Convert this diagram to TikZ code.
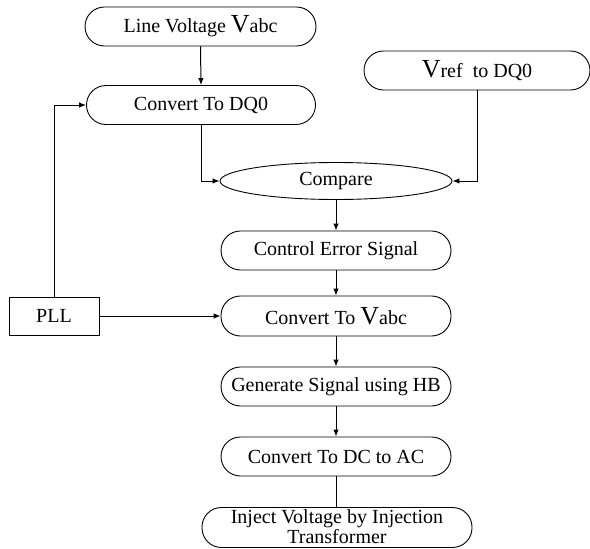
\documentclass[tikz,border=0pt]{standalone}
\usepackage{fontspec}
\setmainfont{Liberation Serif}
\usetikzlibrary{arrows.meta,shapes.geometric}
\newcommand\myV{{\fontsize{26}{26}\selectfont V}}
\begin{document}
\begin{tikzpicture}[x=1pt,y=-1pt,
  every node/.style={font=\fontsize{20}{21}\selectfont, line width=0.9pt},
  stad/.style={draw, rectangle, rounded corners=19.5pt, minimum height=39pt, inner sep=0pt},
  ell/.style={draw, ellipse, minimum width=232pt, minimum height=37pt, inner sep=0pt},
  box/.style={draw, rectangle, minimum width=90pt, minimum height=38pt, inner sep=0pt},
  conn/.style={line width=1pt},
  arr/.style={conn, -{Latex[length=7pt,width=5.5pt]}}]
\useasboundingbox (0,0) rectangle (590,549);
\node[stad, minimum width=231pt] (lv) at (200.5,26.5) {Line Voltage \myV abc};
\node[stad, minimum width=229pt] (dq) at (201,105) {Convert To DQ0};
\node[stad, minimum width=226pt] (vref) at (477,70.5) {\myV ref\ \ to DQ0};
\node[ell] (cmp) at (336,181) {Compare};
\node[stad, minimum width=230pt] (ces) at (336,250.5) {Control Error Signal};
\node[box] (pll) at (54,316) {PLL};
\node[stad, minimum width=230pt, minimum height=40pt] (cva) at (336,316) {Convert To \myV abc};
\node[stad, minimum width=230pt] (gen) at (336,386.5) {Generate Signal using HB};
\node[stad, minimum width=230pt] (dcac) at (336,456.5) {Convert To DC to AC};
\node[stad, minimum width=270pt, minimum height=40pt] (inj) at (337,527.5) {};
\node[align=center, inner sep=0pt, font=\fontsize{20}{20}\selectfont] (injtext) at (337,527) {Inject Voltage by Injection\\Transformer};
\draw[arr] (lv.south) -- (dq.north);
\draw[arr] (dq.south) |- (cmp.west);
\draw[arr] (vref.south) |- (cmp.east);
\draw[arr] (cmp.south) -- (ces.north);
\draw[arr] (ces.south) -- (cva.north);
\draw[arr] (pll.north) |- (dq.west);
\draw[arr] (pll.east) -- (cva.west);
\draw[arr] (cva.south) -- (gen.north);
\draw[arr] (gen.south) -- (dcac.north);
\draw[conn] (dcac.south) -- (dcac.south |- inj.north);
\end{tikzpicture}
\end{document}
